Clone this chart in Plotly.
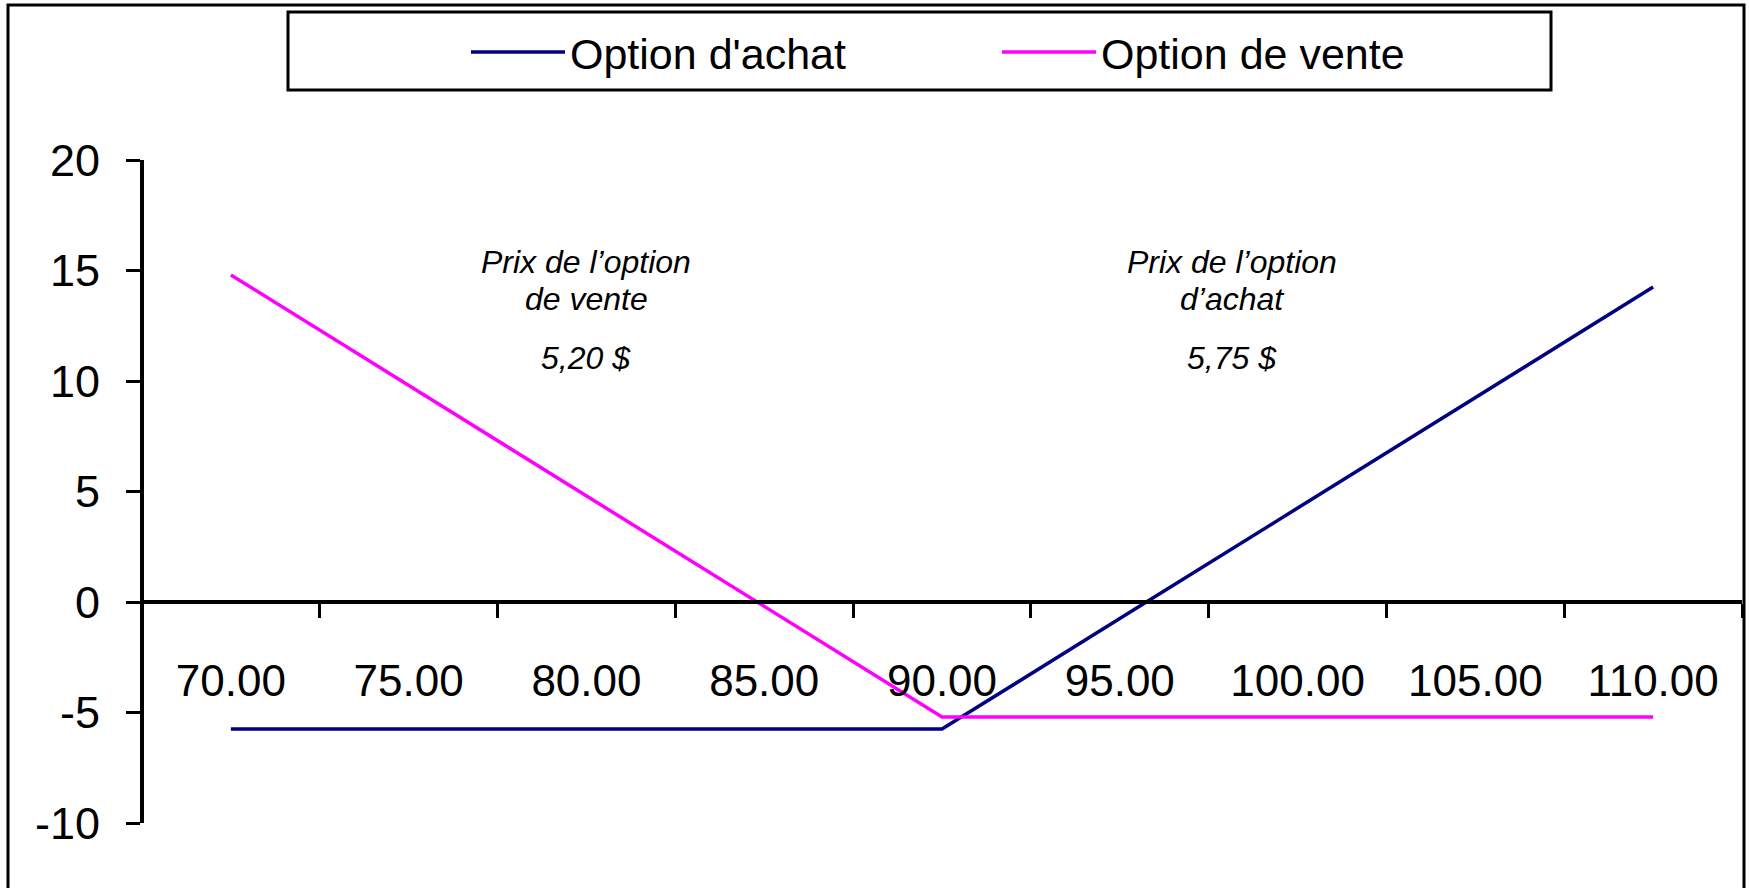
import plotly.graph_objects as go

# Strike prices (category axis) and payoff profiles at expiry
strike_labels = ["70.00", "75.00", "80.00", "85.00", "90.00", "95.00", "100.00", "105.00", "110.00"]
call_payoff = [-5.75, -5.75, -5.75, -5.75, -5.75, -0.75, 4.25, 9.25, 14.25]
put_payoff = [14.80, 9.80, 4.80, -0.20, -5.20, -5.20, -5.20, -5.20, -5.20]

call_name = "Option d'achat"
put_name = "Option de vente"
y_ticks = [-10, -5, 0, 5, 10, 15, 20]
y_tick_text = ["-10", "-5", "0", "5", "10", "15", "20"]

SANS = "Liberation Sans, Arial, sans-serif"

W, H = 1749, 888
ML, MR, MT, MB = 142, 7, 160, 65
PW, PH = W - ML - MR, H - MT - MB


def px_x(px):
    return (px - ML) / PW


def px_y(py):
    return (H - MB - py) / PH


fig = go.Figure()
fig.add_trace(go.Scatter(x=strike_labels, y=call_payoff, mode="lines", name=call_name,
                         line=dict(color="#000080", width=3.5)))
fig.add_trace(go.Scatter(x=strike_labels, y=put_payoff, mode="lines", name=put_name,
                         line=dict(color="#FF00FF", width=3.5)))

# Price labels for each option
notes = [
    (2.0, 262, "Prix de l’option"),
    (2.0, 299, "de vente"),
    (2.0, 358, "5,20 $"),
    (5.63, 262, "Prix de l’option"),
    (5.63, 299, "d’achat"),
    (5.63, 358, "5,75 $"),
]
annotations = []
for xi, py, txt in notes:
    annotations.append(dict(x=xi, xref="x", y=px_y(py), yref="paper", text=txt, showarrow=False,
                            xanchor="center", yanchor="middle",
                            font=dict(family=SANS, size=32, color="black", style="italic")))

shapes = [
    # outer chart frame
    dict(type="rect", xref="paper", yref="paper", x0=px_x(8), x1=px_x(1744), y0=px_y(950), y1=px_y(5),
         line=dict(color="black", width=3), fillcolor="rgba(0,0,0,0)", layer="above"),
    # legend frame
    dict(type="rect", xref="paper", yref="paper", x0=px_x(288), x1=px_x(1551), y0=px_y(90), y1=px_y(12),
         line=dict(color="black", width=3), fillcolor="rgba(0,0,0,0)", layer="above"),
]

fig.update_layout(
    width=W, height=H,
    margin=dict(l=ML, r=MR, t=MT, b=MB, pad=0),
    paper_bgcolor="white", plot_bgcolor="white",
    showlegend=True,
    legend=dict(orientation="h", x=px_x(466), xanchor="left", y=px_y(52), yanchor="middle",
                font=dict(family=SANS, size=43, color="black"),
                itemwidth=94, entrywidth=422, entrywidthmode="pixels",
                bgcolor="rgba(0,0,0,0)", borderwidth=0),
    xaxis=dict(type="category", anchor="free", position=1/3, showgrid=False, zeroline=False,
               showline=True, linecolor="black", linewidth=4,
               ticks="outside", tickson="boundaries", ticklen=14, tickwidth=3, tickcolor="black",
               ticklabelstandoff=39,
               tickfont=dict(family=SANS, size=44, color="black"),
               range=[-0.5, len(strike_labels) - 0.5]),
    yaxis=dict(range=[-10, 20], tickvals=y_ticks, ticktext=y_tick_text, anchor="free", position=0,
               showgrid=False, zeroline=False, showline=True, linecolor="black", linewidth=4,
               ticks="outside", ticklen=14, tickwidth=3, tickcolor="black",
               ticklabelstandoff=17,
               tickfont=dict(family=SANS, size=45, color="black")),
    annotations=annotations,
    shapes=shapes,
)

fig.write_html("out.html")
